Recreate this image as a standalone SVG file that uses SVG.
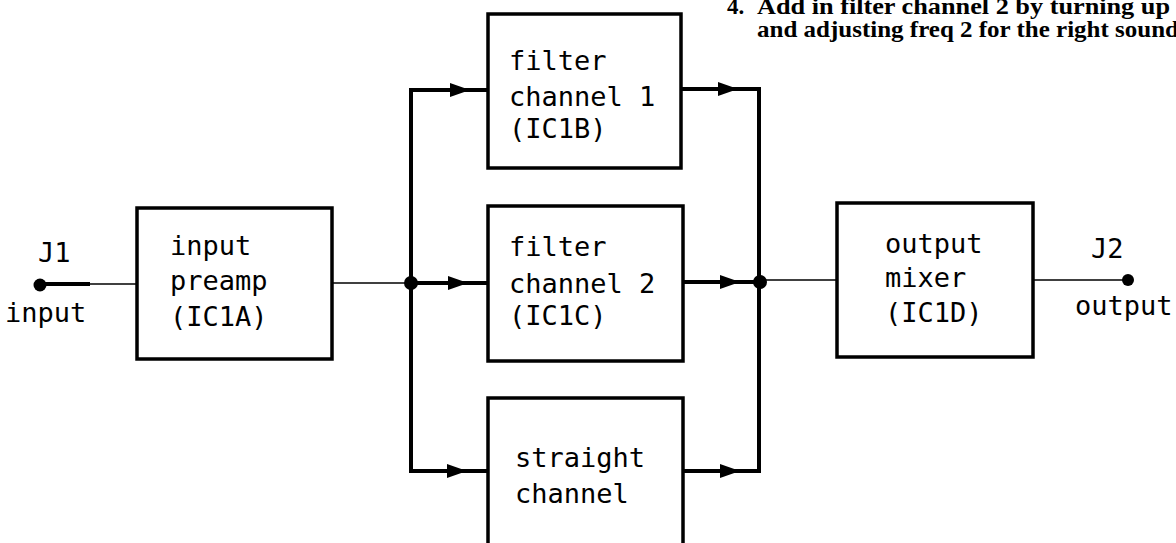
<svg xmlns="http://www.w3.org/2000/svg" width="1176" height="543" viewBox="0 0 1176 543">
<style>
.box{fill:#fff;stroke:#000;stroke-width:3.5}
.lbl{font-family:"DejaVu Sans Mono",monospace;font-size:27px;fill:#000}
.note{font-family:"Liberation Serif",serif;font-size:23px;font-weight:bold;fill:#000}
.thick{fill:none;stroke:#000;stroke-width:4}
.thin{fill:none;stroke:#000;stroke-width:1.6}
</style>
<defs>
<path id="ah" d="M-20,-7 L0,0 L-20,7 Z" fill="#000"/>
</defs>
<rect width="1176" height="543" fill="#fff"/>
<g id="note">
<text class="note" x="727" y="14">4.</text>
<text class="note" x="757" y="14" textLength="413" lengthAdjust="spacingAndGlyphs">Add in filter channel 2 by turning up</text>
<text class="note" x="757" y="37" textLength="422" lengthAdjust="spacingAndGlyphs">and adjusting freq 2 for the right sound</text>
</g>
<g id="connectors">
<line class="thick" x1="40" y1="284" x2="90" y2="284"/>
<line class="thin" x1="90" y1="284" x2="137" y2="284"/>
<line class="thin" x1="332" y1="283" x2="411" y2="283"/>
<polyline class="thick" points="488,90 411,90 411,471 488,471"/>
<line class="thick" x1="411" y1="283" x2="488" y2="283"/>
<polyline class="thick" points="681,89 759,89 759,471 683,471"/>
<line class="thick" x1="683" y1="282" x2="759" y2="282"/>
<line class="thin" x1="759" y1="280" x2="837" y2="280"/>
<line class="thin" x1="1033" y1="280" x2="1128" y2="280"/>
<use href="#ah" x="470" y="90"/>
<use href="#ah" x="468" y="283"/>
<use href="#ah" x="467" y="471"/>
<use href="#ah" x="738" y="89"/>
<use href="#ah" x="740" y="282"/>
<use href="#ah" x="740" y="471"/>
<circle cx="411" cy="283" r="7"/>
<circle cx="760" cy="282" r="7"/>
</g>
<g id="J1">
<circle cx="40" cy="285" r="6.5"/>
<text class="lbl" x="38" y="262">J1</text>
<text class="lbl" x="5" y="322">input</text>
</g>
<g id="preamp">
<rect class="box" x="137" y="208" width="195" height="151"/>
<text class="lbl" x="170" y="255">input</text>
<text class="lbl" x="170" y="290">preamp</text>
<text class="lbl" x="170" y="326">(IC1A)</text>
</g>
<g id="filter1">
<rect class="box" x="488" y="14" width="193" height="154"/>
<text class="lbl" x="509" y="70">filter</text>
<text class="lbl" x="509" y="106">channel 1</text>
<text class="lbl" x="509" y="138">(IC1B)</text>
</g>
<g id="filter2">
<rect class="box" x="488" y="206" width="195" height="155"/>
<text class="lbl" x="509" y="256">filter</text>
<text class="lbl" x="509" y="293">channel 2</text>
<text class="lbl" x="509" y="325">(IC1C)</text>
</g>
<g id="straight">
<rect class="box" x="488" y="398" width="195" height="160"/>
<text class="lbl" x="515" y="467">straight</text>
<text class="lbl" x="515" y="503">channel</text>
</g>
<g id="mixer">
<rect class="box" x="837" y="203" width="196" height="154"/>
<text class="lbl" x="885" y="253">output</text>
<text class="lbl" x="885" y="287">mixer</text>
<text class="lbl" x="885" y="322">(IC1D)</text>
</g>
<g id="J2">
<circle cx="1128" cy="280" r="6"/>
<text class="lbl" x="1091" y="258">J2</text>
<text class="lbl" x="1075" y="315">output</text>
</g>
</svg>
